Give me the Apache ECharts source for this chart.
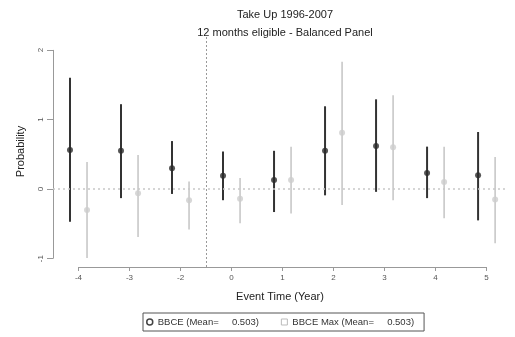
<!DOCTYPE html>
<html><head><meta charset="utf-8">
<script src="https://cdn.jsdelivr.net/npm/echarts@6/dist/echarts.min.js"></script>
<style>html,body{margin:0;padding:0;background:#fff}#c{width:515px;height:337px}</style>
</head><body><div id="c"></div>
<script>
var events = ['-4','-3','-2','0','1','2','3','4','5'];
var yTicks = [-1,0,1,2];
var bbce   = [0.56,0.55,0.30,0.19,0.13,0.55,0.62,0.23,0.20];
var bbceLo = [-0.47,-0.13,-0.07,-0.16,-0.33,-0.09,-0.04,-0.13,-0.45];
var bbceHi = [1.60,1.22,0.69,0.54,0.55,1.19,1.29,0.61,0.82];
var bmax   = [-0.30,-0.06,-0.16,-0.14,0.13,0.81,0.60,0.10,-0.15];
var bmaxLo = [-0.99,-0.69,-0.58,-0.49,-0.35,-0.23,-0.16,-0.42,-0.78];
var bmaxHi = [0.39,0.49,0.11,0.16,0.61,1.83,1.35,0.61,0.46];
var treatLine = 2.5; // between -2 and 0
var off = 0.167;
var name1 = 'BBCE (Mean=     0.503)';
var name2 = 'BBCE Max (Mean=     0.503)';
var dark = '#333', light = '#c4c4c4';

var idx = events.map(function(e,i){return i;});
function errData(lo,hi,d){return idx.map(function(i){return [i+d,lo[i],hi[i]];});}
function ptData(v,d){return idx.map(function(i){return [i+d,v[i]];});}
function errSeries(name,lo,hi,d,color,w){
  return {type:'custom',name:name,data:errData(lo,hi,d),z:2,itemStyle:{color:color},
    renderItem:function(params,api){
      var a=api.coord([api.value(0),api.value(1)]);
      var b=api.coord([api.value(0),api.value(2)]);
      return {type:'line',shape:{x1:a[0],y1:a[1],x2:b[0],y2:b[1]},style:{stroke:color,lineWidth:w}};
    }};
}
var chart = echarts.init(document.getElementById('c'));
chart.setOption({
  animation:false,
  textStyle:{fontFamily:'Liberation Sans, Arial, sans-serif'},
  title:{text:'Take Up 1996-2007\n12 months eligible - Balanced Panel',left:280,textAlign:'center',top:1,
    textStyle:{fontSize:11,fontWeight:'normal',color:'#222',lineHeight:18}},
  grid:{left:53,right:8,top:36,bottom:70},
  legend:{bottom:6,left:143,itemGap:22,borderColor:'#555',borderWidth:1,padding:[4,10,4,3],
    itemWidth:6,itemHeight:6,textStyle:{fontSize:9.5,color:'#333'},
    data:[{name:name1,icon:'circle',itemStyle:{color:'#fff',borderColor:'#444',borderWidth:1.5}},
          {name:name2,icon:'rect',itemStyle:{color:'#fff',borderColor:'#bbb',borderWidth:1}}]},
  xAxis:{type:'value',min:-0.5,max:8.4,
    name:'Event Time (Year)',nameLocation:'middle',nameGap:24,nameTextStyle:{fontSize:11,color:'#222'},
    axisLine:{show:false,onZero:false},splitLine:{show:false},
    axisTick:{show:true,customValues:idx,length:4,lineStyle:{color:'#999'}},
    axisLabel:{customValues:idx,fontSize:8,color:'#555',margin:7,formatter:function(v){return events[Math.round(v)];}}},
  yAxis:{type:'value',min:-1.12,max:2.2,
    name:'Probability',nameLocation:'middle',nameGap:27,nameTextStyle:{fontSize:11,color:'#222'},
    axisLine:{show:false,onZero:false},splitLine:{show:false},
    axisTick:{show:true,customValues:yTicks,length:6,lineStyle:{color:'#999'}},
    axisLabel:{customValues:yTicks,fontSize:8,color:'#555',rotate:90,margin:8}},
  series:[
    {type:'line',data:[],silent:true,
      markLine:{symbol:'none',silent:true,label:{show:false},animation:false,
        data:[
          [{coord:[-0.5,yTicks[0]]},{coord:[-0.5,yTicks[yTicks.length-1]]}],
          [{coord:[0,-1.12]},{coord:[idx.length-1,-1.12]}]
        ],lineStyle:{color:'#999',width:1,type:'solid'}}},
    {type:'line',data:[],silent:true,
      markLine:{symbol:'none',silent:true,label:{show:false},animation:false,
        data:[{yAxis:0}],lineStyle:{color:'#c8c8c8',width:1.5,type:[2,3]}}},
    {type:'line',data:[],silent:true,
      markLine:{symbol:'none',silent:true,label:{show:false},animation:false,
        data:[{xAxis:treatLine}],lineStyle:{color:'#999',width:1,type:[2,2]}}},
    errSeries(name1,bbceLo,bbceHi,-off,dark,2),
    errSeries(name2,bmaxLo,bmaxHi,off,light,1.5),
    {type:'scatter',name:name1,data:ptData(bbce,-off),symbol:'circle',symbolSize:6,z:3,
      itemStyle:{color:'#2a2a2a'}},
    {type:'scatter',name:name2,data:ptData(bmax,off),symbol:'circle',symbolSize:6,z:3,
      itemStyle:{color:'#cdcdcd'}}
  ]
});
</script></body></html>
